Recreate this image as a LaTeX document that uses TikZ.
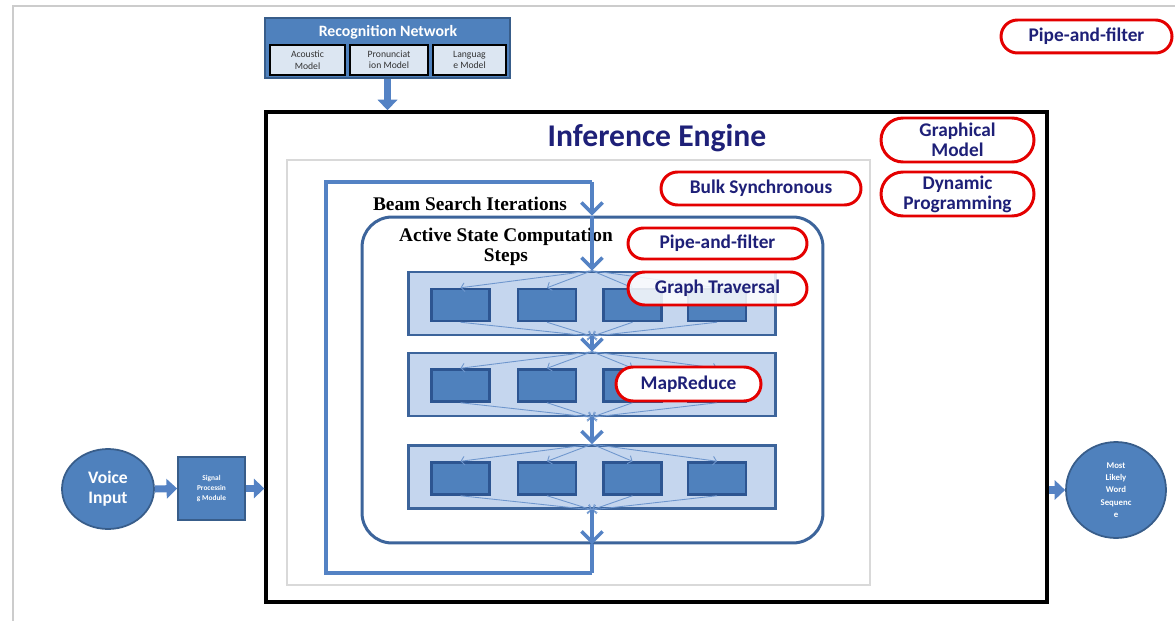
\documentclass[tikz,border=0pt]{standalone}
\usepackage{fontspec}
\setmainfont{Carlito}
\newfontfamily\timesbf{Liberation Serif}[BoldFont={Liberation Serif Bold}]
\usepackage{xcolor}
\usetikzlibrary{arrows.meta, shapes.geometric, shapes.misc}

\definecolor{netblue}{RGB}{79,129,189}
\definecolor{netedge}{RGB}{56,93,138}
\definecolor{modelfill}{RGB}{220,230,242}
\definecolor{rowfill}{RGB}{197,214,238}
\definecolor{rowedge}{RGB}{60,100,155}
\definecolor{celledge}{RGB}{45,85,145}
\definecolor{loopblue}{RGB}{84,130,196}
\definecolor{fanblue}{RGB}{110,150,205}
\definecolor{ovalred}{RGB}{228,0,0}
\definecolor{navy}{RGB}{30,32,120}

\begin{document}
\begin{tikzpicture}[x=0.02cm, y=-0.02cm,
    net/.style={draw=netedge, fill=netblue, line width=1pt},
    model/.style={draw=black, line width=1.6pt, fill=modelfill, minimum height=0.6cm,
      inner sep=0pt, align=center, text=black!80, font=\fontsize{5.5}{6.5}\selectfont},
    blob/.style={ellipse, draw=netedge, line width=1pt, fill=netblue, text=white,
      inner sep=0pt, align=center},
    oval/.style={rounded rectangle, draw=ovalred, line width=1.7pt, fill=white, text=navy,
      inner sep=0pt, align=center, font=\bfseries\fontsize{11}{11.5}\selectfont},
    rowbox/.style={draw=rowedge, fill=rowfill, line width=1.5pt,
      minimum width=7.34cm, minimum height=1.26cm},
    cell/.style={draw=celledge, fill=netblue, line width=1.4pt,
      minimum width=1.16cm, minimum height=0.64cm},
    flow/.style={draw=loopblue, line width=2pt, -{Straight Barb[length=6pt,width=12pt]}},
    loopline/.style={draw=loopblue, line width=2.5pt},
    fan/.style={draw=fanblue, line width=0.5pt, -{Straight Barb[length=2pt,width=5pt]}},
    fat/.style={draw=loopblue, line width=4pt, -{Triangle[length=6pt,width=11pt]}},
    heading/.style={font=\timesbf\bfseries\fontsize{11}{11}\selectfont, align=center, inner sep=0pt}]

    \useasboundingbox (0,0) rectangle (1175,621);

    % ---------- slide frame ----------
    \draw[black!20, line width=1.2pt] (13,621) -- (13,6) -- (1175,6);

    % ---------- Recognition Network ----------
    \node[net, minimum width=4.9cm, minimum height=1.2cm] (recnet) at (387.5,48) {};
    \node[text=white, font=\bfseries\fontsize{9}{9}\selectfont] (rectitle) at (388,32) {Recognition Network};
    \node[model, minimum width=1.5cm] (acoustic) at (307.5,60) {Acoustic\\Model};
    \node[model, minimum width=1.56cm] (pronun) at (389,60) {Pronunciat\\ion Model};
    \node[model, minimum width=1.46cm] (langmod) at (469.5,60) {Languag\\e Model};

    % ---------- Inference Engine ----------
    \node[draw=black, line width=2pt, minimum width=15.62cm, minimum height=9.8cm] (engine) at (656.5,357) {};
    \node[text=navy, font=\bfseries\fontsize{18}{18}\selectfont] (enginetitle) at (657,138) {Inference Engine};
    \node[draw=black!15, fill=white, line width=1pt, minimum width=11.66cm, minimum height=8.5cm] (panel) at (578.5,372.5) {};

    % network feeds the engine
    \draw[fat] (recnet.south) -- (recnet.south |- engine.north);

    % ---------- Active State Computation ----------
    \node[draw=rowedge, line width=1.7pt, rounded corners=0.6cm, minimum width=9.22cm, minimum height=6.52cm] (active) at (592.5,380) {};
    \node[heading] (beamlabel) at (470,204) {Beam Search Iterations};
    \node[heading] (activelabel) at (506,247) {Active State Computation\\Steps};

    % rows of steps
    \node[rowbox] (row1) at (592,303.5) {};
    \node[rowbox] (row2) at (592,384.5) {};
    \node[rowbox] (row3) at (592,477) {};

    \foreach \r/\y in {1/305,2/385.5,3/478.5} {
      \foreach \c/\x in {1/460.5,2/547,3/632.5,4/717} {
        \node[cell] (c\r\c) at (\x,\y) {};
        \draw[fan] (row\r.north) -- (c\r\c.north);
        \draw[fan] (c\r\c.south) -- (row\r.south);
      }
    }

    % ---------- beam search loop ----------
    \coordinate (looptr) at (592,182);
    \coordinate (looptl) at (326,182);
    \coordinate (loopbl) at (326,573);
    \coordinate (loopbr) at (592,573);

    \draw[loopline] (loopbr) -- (loopbl) -- (looptl) -- (looptr);
    \draw[flow] (looptr) -- (looptr |- active.north);
    \draw[flow] (looptr |- active.north) -- (row1.north);
    \draw[flow] (row1.south) -- (row2.north);
    \draw[flow] (row2.south) -- (row3.north);
    \draw[flow] (row3.south) -- (row3.south |- active.south);
    \draw[loopline] (row3.south |- active.south) -- (loopbr);

    % ---------- pattern tags ----------
    \node[oval, minimum width=3.42cm, minimum height=0.66cm] (tagpipe) at (1086.5,36.5) {Pipe-and-filter};
    \node[oval, minimum width=3.06cm, minimum height=0.88cm] (taggraph) at (957.5,140) {Graphical\\Model};
    \node[oval, minimum width=3.06cm, minimum height=0.88cm] (tagdyn) at (957.5,194) {Dynamic\\Programming};
    \node[oval, minimum width=4cm, minimum height=0.66cm] (tagbulk) at (761,188.5) {Bulk Synchronous};
    \node[oval, minimum width=3.58cm, minimum height=0.62cm] (tagpipein) at (717.5,243.5) {Pipe-and-filter};
    \node[oval, fill opacity=0.85, text opacity=1, minimum width=3.58cm, minimum height=0.66cm] (tagtrav) at (717.5,288.5) {Graph Traversal};
    \node[oval, minimum width=2.9cm, minimum height=0.68cm] (tagmap) at (688.5,384) {MapReduce};

    % ---------- input side ----------
    \node[blob, minimum width=1.84cm, minimum height=1.6cm, font=\bfseries\fontsize{10}{11.5}\selectfont] (voice) at (108,489) {Voice\\Input};
    \node[net, minimum width=1.34cm, minimum height=1.26cm, text=white, align=center, inner sep=0pt,
      font=\bfseries\fontsize{4.2}{5.5}\selectfont] (signal) at (211.5,488.5) {Signal\\Processin\\g Module};
    \draw[fat] (voice.east) -- (signal.west);
    \draw[fat] (signal.east) -- (signal.east -| engine.west);

    % ---------- output side ----------
    \node[blob, minimum width=2cm, minimum height=1.92cm, font=\bfseries\fontsize{5}{7}\selectfont] (wordseq) at (1116,490) {Most\\Likely\\Word\\Sequenc\\e};
    \draw[fat] (engine.east |- wordseq.west) -- (wordseq.west);

\end{tikzpicture}
\end{document}
